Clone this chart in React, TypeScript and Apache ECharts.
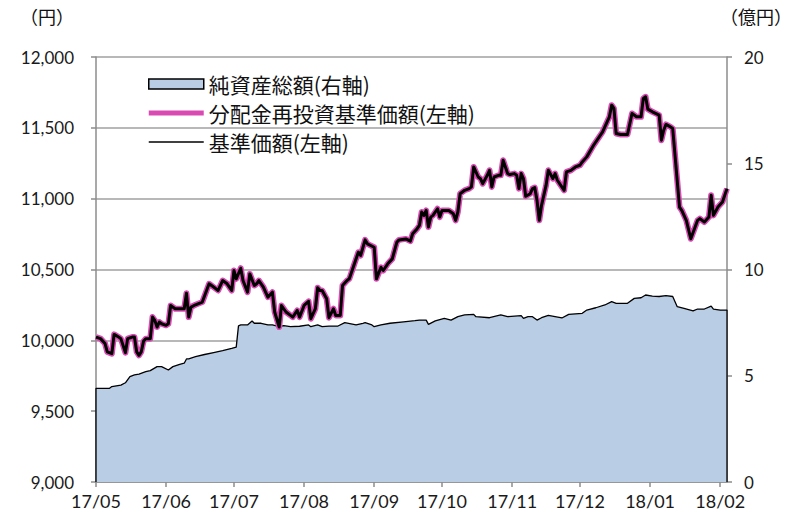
import React, { useEffect, useRef } from 'react';
import * as echarts from 'echarts';

// 基準価額 / 分配金再投資基準価額 (identical: no distributions)
const lineDates = [
  '2017-05-01','2017-05-03','2017-05-05','2017-05-06','2017-05-08','2017-05-09','2017-05-11','2017-05-12','2017-05-14','2017-05-15','2017-05-17','2017-05-18','2017-05-19','2017-05-20','2017-05-21','2017-05-22','2017-05-23','2017-05-25','2017-05-26','2017-05-27','2017-05-28','2017-05-29','2017-05-30',
  '2017-06-01','2017-06-02','2017-06-03','2017-06-05','2017-06-07','2017-06-09','2017-06-10','2017-06-11','2017-06-12','2017-06-14','2017-06-17','2017-06-20','2017-06-22','2017-06-24','2017-06-26','2017-06-28','2017-06-30',
  '2017-07-01','2017-07-02','2017-07-04','2017-07-05','2017-07-07','2017-07-08','2017-07-10','2017-07-11','2017-07-12','2017-07-14','2017-07-16','2017-07-18','2017-07-19','2017-07-21','2017-07-22','2017-07-24','2017-07-26','2017-07-27','2017-07-29','2017-07-30',
  '2017-08-01','2017-08-03','2017-08-04','2017-08-06','2017-08-07','2017-08-08','2017-08-09','2017-08-11','2017-08-12','2017-08-14','2017-08-15','2017-08-17','2017-08-18','2017-08-20','2017-08-21','2017-08-23','2017-08-25','2017-08-26','2017-08-28','2017-08-29',
  '2017-09-01','2017-09-02','2017-09-04','2017-09-05','2017-09-07','2017-09-09','2017-09-11','2017-09-12','2017-09-15','2017-09-17','2017-09-18','2017-09-20','2017-09-21','2017-09-22','2017-09-23','2017-09-24','2017-09-25','2017-09-26','2017-09-27','2017-09-29','2017-09-30',
  '2017-10-01','2017-10-02','2017-10-04','2017-10-06','2017-10-07','2017-10-08','2017-10-09','2017-10-11','2017-10-13','2017-10-14','2017-10-15','2017-10-17','2017-10-18','2017-10-19','2017-10-21','2017-10-22','2017-10-23','2017-10-24','2017-10-26','2017-10-27','2017-10-28','2017-10-30','2017-10-31',
  '2017-11-02','2017-11-03','2017-11-04','2017-11-05','2017-11-06','2017-11-07','2017-11-09','2017-11-10','2017-11-11','2017-11-12','2017-11-13','2017-11-14','2017-11-16','2017-11-17','2017-11-19','2017-11-20','2017-11-21','2017-11-24','2017-11-25','2017-11-27','2017-11-29',
  '2017-12-01','2017-12-02','2017-12-04','2017-12-07','2017-12-11','2017-12-14','2017-12-15','2017-12-16','2017-12-17','2017-12-19','2017-12-22','2017-12-24','2017-12-26','2017-12-28','2017-12-29','2017-12-30','2017-12-31',
  '2018-01-02','2018-01-05','2018-01-06','2018-01-07','2018-01-08','2018-01-10','2018-01-11','2018-01-14','2018-01-15','2018-01-17','2018-01-19','2018-01-22','2018-01-23','2018-01-25','2018-01-27','2018-01-28','2018-01-29','2018-01-31',
  '2018-02-02','2018-02-04'
];

const navValues = [
  10023,10012,9977,9918,9906,10042,10023,10012,9913,10012,10023,10023,9918,9894,9918,9993,10012,10012,10164,10141,10094,10129,10117,
  10106,10117,10246,10223,10223,10223,10333,10164,10235,10251,10270,10399,10376,10352,10422,10399,10352,
  10493,10434,10509,10422,10340,10469,10387,10399,10422,10376,10305,10340,10200,10094,10246,10200,10176,10164,10211,10164,
  10246,10275,10153,10223,10371,10352,10352,10293,10160,10223,10176,10176,10387,10423,10434,10528,10622,10599,10709,10681,
  10657,10434,10516,10493,10540,10575,10692,10709,10716,10700,10752,10788,10811,10906,10882,10917,10800,10870,10882,10929,10870,
  10917,10917,10917,10894,10847,10906,11035,11059,11071,11083,11224,11153,11141,11106,11165,11200,11083,11153,11165,11165,11271,11177,11170,
  11177,11165,11071,11177,11142,11017,11035,11071,11078,10988,10847,10953,11094,11200,11142,11177,11130,11059,11189,11200,11224,
  11236,11259,11295,11377,11472,11578,11660,11637,11460,11453,11453,11601,11578,11578,11708,11719,11632,
  11613,11590,11413,11483,11524,11507,11495,10941,10918,10847,10717,10847,10859,10835,10870,11024,10882,10941,
  10976,11071
];

const reinvestedValues = [...navValues];

// 純資産総額 (億円)
const aumDates = [
  '2017-05-01','2017-05-01','2017-05-07','2017-05-08','2017-05-12','2017-05-14','2017-05-16','2017-05-18','2017-05-20','2017-05-23','2017-05-25','2017-05-28','2017-05-30',
  '2017-06-02','2017-06-04','2017-06-07','2017-06-09','2017-06-10','2017-06-11','2017-06-14','2017-06-18','2017-06-22','2017-06-26','2017-06-30',
  '2017-07-02','2017-07-03','2017-07-04','2017-07-07','2017-07-09','2017-07-10','2017-07-13','2017-07-16','2017-07-18','2017-07-21','2017-07-23','2017-07-26','2017-07-30',
  '2017-08-03','2017-08-04','2017-08-07','2017-08-09','2017-08-12','2017-08-16','2017-08-19','2017-08-24','2017-08-27','2017-08-28','2017-08-31',
  '2017-09-01','2017-09-04','2017-09-08','2017-09-14','2017-09-19','2017-09-21','2017-09-24','2017-09-25','2017-09-28',
  '2017-10-02','2017-10-05','2017-10-08','2017-10-11','2017-10-15','2017-10-16','2017-10-22','2017-10-27','2017-10-30',
  '2017-11-05','2017-11-06','2017-11-08','2017-11-10','2017-11-12','2017-11-14','2017-11-17','2017-11-20','2017-11-23','2017-11-26',
  '2017-12-02','2017-12-04','2017-12-08','2017-12-12','2017-12-15','2017-12-17','2017-12-22','2017-12-25','2017-12-28','2017-12-30',
  '2018-01-02','2018-01-05','2018-01-08','2018-01-11','2018-01-13','2018-01-16','2018-01-20','2018-01-22','2018-01-25','2018-01-28','2018-01-29',
  '2018-02-01','2018-02-04','2018-02-04'
];

const aumValues = [
  0,4.41,4.41,4.49,4.56,4.67,4.96,5.04,5.08,5.19,5.24,5.43,5.43,
  5.27,5.43,5.54,5.59,5.79,5.79,5.9,6.0,6.09,6.18,6.29,
  6.35,7.35,7.39,7.39,7.58,7.47,7.47,7.39,7.39,7.31,7.36,7.31,7.33,
  7.39,7.31,7.39,7.31,7.34,7.34,7.5,7.39,7.47,7.5,7.39,
  7.31,7.39,7.47,7.54,7.59,7.62,7.62,7.42,7.58,
  7.7,7.62,7.78,7.86,7.89,7.78,7.73,7.86,7.78,
  7.83,7.7,7.78,7.78,7.62,7.73,7.84,7.78,7.72,7.89,
  7.94,8.09,8.2,8.33,8.49,8.41,8.41,8.64,8.67,8.8,
  8.75,8.73,8.77,8.73,8.25,8.17,8.05,8.14,8.14,8.28,8.14,
  8.09,8.09,0
];

const monthTicks = [
  '2017-05-01','2017-06-01','2017-07-01','2017-08-01','2017-09-01',
  '2017-10-01','2017-11-01','2017-12-01','2018-01-01','2018-02-01'
];

const axisMinDate = '2017-05-01';
const axisMaxDate = '2018-02-04';

const SERIES_AUM = '純資産総額(右軸)';
const SERIES_REINV = '分配金再投資基準価額(左軸)';
const SERIES_NAV = '基準価額(左軸)';

const toTs = (s: string) => {
  const [y, m, d] = s.split('-').map(Number);
  return new Date(y, m - 1, d).getTime();
};

export default function App() {
  const ref = useRef<HTMLDivElement>(null);

  useEffect(() => {
    const chart = echarts.init(ref.current!, null, { renderer: 'svg' });
    const labelFont = 'Lato, "Open Sans", sans-serif';
    const cjkFont = '"Noto Sans CJK JP", sans-serif';
    const tickTs = monthTicks.map(toTs);

    const option: any = {
      animation: false,
      backgroundColor: '#ffffff',
      grid: { left: 96, right: 75, top: 57, bottom: 40, containLabel: false },
      legend: {
        orient: 'vertical',
        left: 148,
        top: 72,
        padding: 0,
        itemWidth: 55,
        itemHeight: 10,
        itemGap: 5,
        textStyle: { fontFamily: cjkFont, fontSize: 21, color: '#111', lineHeight: 24, padding: [0, 0, 0, 0] },
        data: [
          {
            name: SERIES_AUM,
            icon: 'rect',
            itemStyle: { color: '#B9CDE5', borderColor: '#000', borderWidth: 1.5 },
          },
          {
            name: SERIES_REINV,
            icon: 'path://M0,0 M0,2.5 H55 V7.5 H0 Z M55,10',
            itemStyle: { color: '#D94BB3', borderWidth: 0 },
          },
          {
            name: SERIES_NAV,
            icon: 'path://M0,0 M0,4.2 H55 V5.8 H0 Z M55,10',
            itemStyle: { color: '#000', borderWidth: 0 },
          },
        ],
      },
      xAxis: {
        type: 'value',
        min: toTs(axisMinDate),
        max: toTs(axisMaxDate),
        axisLine: { show: true, lineStyle: { color: '#8C8C8C', width: 1.5 } },
        axisTick: {
          show: true,
          inside: false,
          length: 5,
          customValues: tickTs,
          lineStyle: { color: '#8C8C8C', width: 1.5 },
        },
        axisLabel: {
          customValues: tickTs,
          margin: 10,
          fontFamily: labelFont,
          fontSize: 18,
          color: '#1a1a1a',
          formatter: (v: number) => {
            const d = new Date(v);
            return `${String(d.getFullYear()).slice(2)}/${String(d.getMonth() + 1).padStart(2, '0')}`;
          },
        },
        splitLine: { show: false },
      },
      yAxis: [
        {
          type: 'value',
          position: 'left',
          min: 9000,
          max: 12000,
          interval: 500,
          axisLine: { show: true, lineStyle: { color: '#8C8C8C', width: 1.5 } },
          axisTick: { show: true, inside: false, length: 5, lineStyle: { color: '#8C8C8C', width: 1.5 } },
          axisLabel: {
            margin: 22,
            fontFamily: labelFont,
            fontSize: 17,
            color: '#1a1a1a',
            formatter: (v: number) => v.toLocaleString('en-US'),
          },
          splitLine: { show: true, lineStyle: { color: '#A0A0A0', width: 1.5 } },
        },
        {
          type: 'value',
          position: 'right',
          min: 0,
          max: 20,
          interval: 5,
          axisLine: { show: true, lineStyle: { color: '#8C8C8C', width: 1.5 } },
          axisTick: { show: true, inside: false, length: 5, lineStyle: { color: '#8C8C8C', width: 1.5 } },
          axisLabel: {
            margin: 17,
            fontFamily: labelFont,
            fontSize: 17,
            color: '#1a1a1a',
          },
          splitLine: { show: false },
        },
      ],
      graphic: [
        {
          type: 'text',
          left: 20,
          top: 7,
          style: { text: '（円）', font: `18px ${cjkFont}`, fill: '#111' },
        },
        {
          type: 'text',
          left: 720,
          top: 7,
          style: { text: '（億円）', font: `18px ${cjkFont}`, fill: '#111' },
        },
      ],
      series: [
        {
          name: SERIES_AUM,
          type: 'line',
          yAxisIndex: 1,
          symbol: 'none',
          data: aumDates.map((d, i) => [toTs(d), aumValues[i]]),
          lineStyle: { color: '#000', width: 1.3 },
          itemStyle: { color: '#B9CDE5' },
          areaStyle: { color: '#B9CDE5', opacity: 1 },
          z: 1,
        },
        {
          name: SERIES_REINV,
          type: 'line',
          yAxisIndex: 0,
          symbol: 'none',
          data: lineDates.map((d, i) => [toTs(d), reinvestedValues[i]]),
          lineStyle: { color: '#D94BB3', width: 6, join: 'round' },
          itemStyle: { color: '#D94BB3' },
          z: 2,
        },
        {
          name: SERIES_NAV,
          type: 'line',
          yAxisIndex: 0,
          symbol: 'none',
          data: lineDates.map((d, i) => [toTs(d), navValues[i]]),
          lineStyle: { color: '#000', width: 3, join: 'round' },
          itemStyle: { color: '#000' },
          z: 3,
        },
      ],
    };

    chart.setOption(option);
    return () => chart.dispose();
  }, []);

  return (
    <div
      ref={ref}
      style={{ position: 'absolute', left: 0, top: 0, width: 802, height: 522, background: '#fff' }}
    />
  );
}
